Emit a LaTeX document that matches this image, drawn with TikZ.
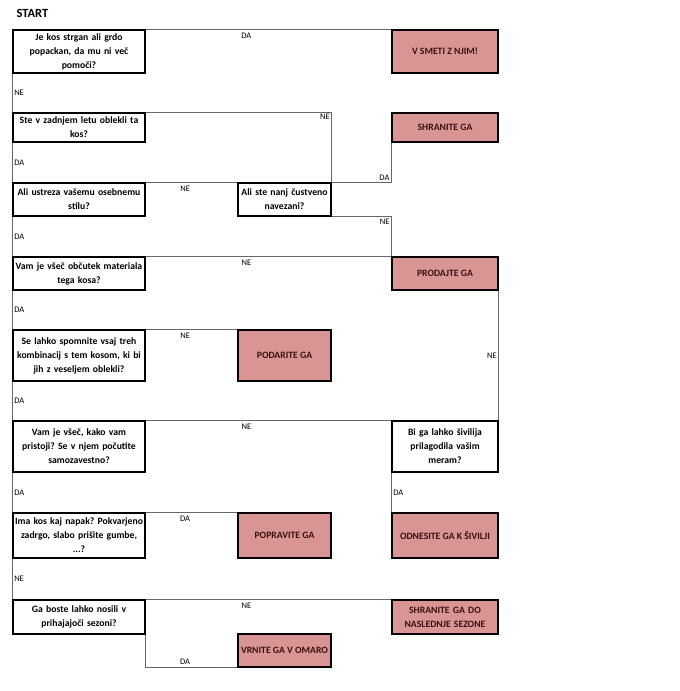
\documentclass[tikz,border=0pt]{standalone}
\usepackage{fontspec}
\setmainfont{Carlito}
\usetikzlibrary{positioning}
\definecolor{endfill}{HTML}{D99594}
\definecolor{endtext}{HTML}{3A1010}
\frenchspacing

\begin{document}
\begin{tikzpicture}[x=1pt,y=-1pt,
  every node/.style={font=\fontsize{9}{13}\selectfont},
  question/.style={draw,line width=1.3pt,align=center,inner sep=1pt,font=\fontsize{9.7}{14}\selectfont\bfseries},
  verdict/.style={question,fill=endfill,text=endtext},
  link/.style={draw=black!60,line width=0.8pt},
  lbl/.style={font=\fontsize{8.5}{10}\selectfont,inner sep=3pt}]
\useasboundingbox (0,0) rectangle (680,691);
\node[anchor=west,font=\fontsize{12.5}{14}\selectfont\bfseries] (start) at (13,13) {START};
% questions in the left column
\node[question,minimum width=132,minimum height=43,text width=130] (q1) at (79,51.5) {Je kos strgan ali grdo\\popackan, da mu ni več\\pomoči?};
\node[question,minimum width=132,minimum height=29,text width=130] (q2) at (79,127.5) {Ste v zadnjem letu oblekli ta\\kos?};
\node[question,minimum width=132,minimum height=33,text width=130] (q3) at (79,199.5) {Ali ustreza vašemu osebnemu\\stilu?};
\node[question,minimum width=93,minimum height=33,text width=91] (q4) at (284.5,199.5) {Ali ste nanj čustveno\\navezani?};
\node[question,minimum width=132,minimum height=33,text width=130] (q5) at (79,273.5) {Vam je všeč občutek materiala\\tega kosa?};
\node[question,minimum width=132,minimum height=51,text width=130] (q6) at (79,355.5) {Se lahko spomnite vsaj treh\\kombinacij s tem kosom, ki bi\\jih z veseljem oblekli?};
\node[question,minimum width=132,minimum height=51,text width=130] (q7) at (79,446.5) {Vam je všeč, kako vam\\pristoji? Se v njem počutite\\samozavestno?};
\node[question,minimum width=106,minimum height=51,text width=104] (q10) at (445,446.5) {Bi ga lahko šivilija\\prilagodila vašim\\meram?};
\node[question,minimum width=132,minimum height=45,text width=130] (q8) at (79,535.5) {Ima kos kaj napak? Pokvarjeno\\zadrgo, slabo prišite gumbe,\\...?};
\node[question,minimum width=132,minimum height=34,text width=130] (q9) at (79,617) {Ga boste lahko nosili v\\prihajajoči sezoni?};
% verdicts
\node[verdict,minimum width=106,minimum height=43] (smeti) at (445,51.5) {V SMETI Z NJIM!};
\node[verdict,minimum width=106,minimum height=29] (shrani) at (445,127.5) {SHRANITE GA};
\node[verdict,minimum width=106,minimum height=33] (prodaj) at (445,273.5) {PRODAJTE GA};
\node[verdict,minimum width=93,minimum height=51] (podari) at (284.5,355.5) {PODARITE GA};
\node[verdict,minimum width=93,minimum height=45] (popravi) at (284.5,535.5) {POPRAVITE GA};
\node[verdict,minimum width=106,minimum height=45] (sivilja) at (445,535.5) {ODNESITE GA K ŠIVILJI};
\node[verdict,minimum width=106,minimum height=34,text width=104] (sezona) at (445,617) {SHRANITE GA DO\\NASLEDNJE SEZONE};
\node[verdict,minimum width=93,minimum height=33] (omara) at (284.5,650.5) {VRNITE GA V OMARO};
% left spine
\draw[link] (q1.south west) -- node[lbl,right,inner sep=1.5pt] {NE} (q2.north west);
\draw[link] (q2.south west) -- node[lbl,right,inner sep=1.5pt] {DA} (q3.north west);
\draw[link] (q3.south west) -- node[lbl,right,inner sep=1.5pt] {DA} (q5.north west);
\draw[link] (q5.south west) -- node[lbl,right,inner sep=1.5pt] {DA} (q6.north west);
\draw[link] (q6.south west) -- node[lbl,right,inner sep=1.5pt] {DA} (q7.north west);
\draw[link] (q7.south west) -- node[lbl,right,inner sep=1.5pt] {DA} (q8.north west);
\draw[link] (q8.south west) -- node[lbl,right,inner sep=1.5pt] {NE} (q9.north west);
% branches to the right
\draw[link] (q1.north east) -- node[lbl,below,pos=0.41] {DA} (smeti.north west);
\draw[link] (q2.north east) -| node[lbl,below left,pos=0.5,inner sep=1.5pt] {NE} (q4.north east);
\draw[link] (shrani.south west) |- node[lbl,above left,pos=0.5,inner sep=1.5pt] {DA} (q4.north east);
\draw[link] (q3.north east) -- node[lbl,below,pos=0.43] {NE} (q4.north west);
\draw[link] (q4.south east) -| node[lbl,below left,pos=0.5,inner sep=1.5pt] {NE} (prodaj.north west);
\draw[link] (q5.north east) -- node[lbl,below,pos=0.41] {NE} (prodaj.north west);
\draw[link] (q6.north east) -- node[lbl,below,pos=0.43] {NE} (podari.north west);
\draw[link] (q7.north east) -- node[lbl,below,pos=0.41] {NE} (q10.north west);
\draw[link] (q10.north east) -- node[lbl,left,inner sep=1.5pt] {NE} (prodaj.south east);
\draw[link] (q10.south west) -- node[lbl,right,inner sep=1.5pt] {DA} (sivilja.north west);
\draw[link] (q8.north east) -- node[lbl,below,pos=0.43] {DA} (popravi.north west);
\draw[link] (q9.north east) -- node[lbl,below,pos=0.41] {NE} (sezona.north west);
\draw[link] (q9.south east) |- node[lbl,above,pos=0.715] {DA} (omara.south west);
\end{tikzpicture}
\end{document}
